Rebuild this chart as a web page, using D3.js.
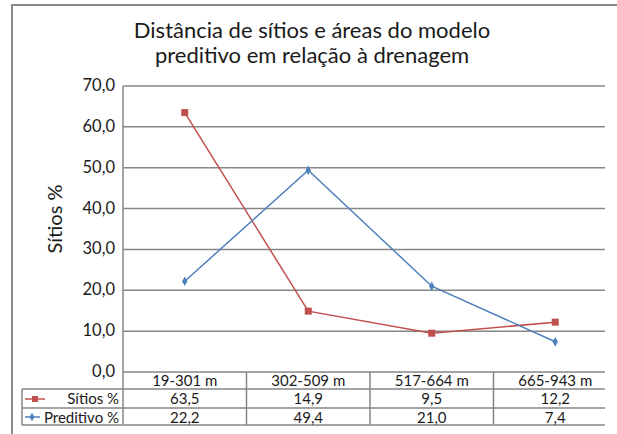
<!DOCTYPE html>
<html>
<head>
<meta charset="utf-8">
<script src="https://cdn.jsdelivr.net/npm/d3@7"></script>
<style>
  body { margin: 0; background: #fff; }
  svg { font-family: Lato, "Open Sans", sans-serif; }
</style>
</head>
<body>
<svg id="chart" width="617" height="434"></svg>
<script>
var categories = ["19-301 m", "302-509 m", "517-664 m", "665-943 m"];
var sitios = [63.5, 14.9, 9.5, 12.2];
var preditivo = [22.2, 49.4, 21.0, 7.4];
var yTicks = [0, 10, 20, 30, 40, 50, 60, 70];
var seriesNames = ["Sítios %", "Preditivo %"];
var titleLines = ["Distância de sítios e áreas do modelo", "preditivo em relação à drenagem"];

function draw_chart() {
    var svg = d3.select("svg");
    var plotLeft = 123, plotRight = 605, plotTop = 86, plotBottom = 372;
    var fmt = function (v) { return d3.format(".1f")(v).replace(".", ","); };
    var red = "#c0504d", blue = "#4f81bd", gridColor = "#868686", ink = "#1a1a1a";

    var x = d3.scaleBand().domain(categories).range([plotLeft, 617]);
    var y = d3.scaleLinear().domain([0, 70]).range([plotBottom, plotTop]);
    var cx = function (i) { return x(categories[i]) + x.bandwidth() / 2; };

    // outer frame
    svg.append("path")
        .attr("d", "M12,440 V5 H620")
        .attr("fill", "none")
        .attr("stroke", "#8c8c8c")
        .attr("stroke-width", 2);

    // title
    svg.append("g").selectAll("text")
        .data(titleLines)
        .enter().append("text")
        .attr("x", 312)
        .attr("y", function (d, i) { return 38 + i * 25; })
        .attr("text-anchor", "middle")
        .attr("font-size", 22)
        .attr("fill", ink)
        .text(function (d) { return d; });

    // grid lines
    svg.append("g").selectAll("line")
        .data(yTicks)
        .enter().append("line")
        .attr("x1", plotLeft)
        .attr("x2", plotRight)
        .attr("y1", function (d) { return y(d); })
        .attr("y2", function (d) { return y(d); })
        .attr("stroke", gridColor)
        .attr("stroke-width", 1.5);

    // y axis line
    svg.append("line")
        .attr("x1", plotLeft).attr("x2", plotLeft)
        .attr("y1", plotTop).attr("y2", 425)
        .attr("stroke", gridColor).attr("stroke-width", 1.5);

    // y tick labels
    svg.append("g").selectAll("text")
        .data(yTicks)
        .enter().append("text")
        .attr("x", 115)
        .attr("y", function (d) { return y(d) + 5; })
        .attr("text-anchor", "end")
        .attr("font-size", 16.5)
        .attr("fill", ink)
        .text(fmt);

    // y axis title
    svg.append("text")
        .attr("transform", "translate(62,219) rotate(-90)")
        .attr("text-anchor", "middle")
        .attr("font-size", 20)
        .attr("fill", ink)
        .text("Sítios %");

    // data table
    var rowY = [plotBottom, 389, 408, 425];
    var tg = svg.append("g");
    rowY.slice(1).forEach(function (ry) {
        tg.append("line")
            .attr("x1", 22).attr("x2", plotRight)
            .attr("y1", ry).attr("y2", ry)
            .attr("stroke", gridColor).attr("stroke-width", 1.5);
    });
    tg.append("line")
        .attr("x1", 22).attr("x2", 22)
        .attr("y1", 389).attr("y2", 425)
        .attr("stroke", gridColor).attr("stroke-width", 1.5);
    tg.selectAll("line.div")
        .data(categories.slice(1))
        .enter().append("line")
        .attr("class", "div")
        .attr("x1", function (d) { return x(d); })
        .attr("x2", function (d) { return x(d); })
        .attr("y1", plotBottom).attr("y2", 425)
        .attr("stroke", gridColor).attr("stroke-width", 1.5);

    tg.selectAll("text.cat")
        .data(categories)
        .enter().append("text")
        .attr("class", "cat")
        .attr("x", function (d, i) { return cx(i); })
        .attr("y", 386)
        .attr("text-anchor", "middle")
        .attr("font-size", 15)
        .attr("fill", ink)
        .text(function (d) { return d; });

    [sitios, preditivo].forEach(function (vals, r) {
        tg.selectAll("text.v" + r)
            .data(vals)
            .enter().append("text")
            .attr("class", "v" + r)
            .attr("x", function (d, i) { return cx(i); })
            .attr("y", rowY[r + 1] + 15)
            .attr("text-anchor", "middle")
            .attr("font-size", 15)
            .attr("fill", ink)
            .text(fmt);
        tg.append("text")
            .attr("x", 119)
            .attr("y", rowY[r + 1] + 15)
            .attr("text-anchor", "end")
            .attr("font-size", 15)
            .attr("fill", ink)
            .text(seriesNames[r]);
    });

    // legend keys in table
    tg.append("line").attr("x1", 25).attr("x2", 45).attr("y1", 399).attr("y2", 399)
        .attr("stroke", red).attr("stroke-width", 1.5);
    tg.append("rect").attr("x", 32).attr("y", 396).attr("width", 6).attr("height", 6).attr("fill", red);
    tg.append("line").attr("x1", 25).attr("x2", 40).attr("y1", 417).attr("y2", 417)
        .attr("stroke", blue).attr("stroke-width", 1.5);
    tg.append("path").attr("d", d3.symbol(d3.symbolDiamond, 22)()).attr("transform", "translate(32,417)")
        .attr("fill", blue);

    // series lines
    var line = d3.line()
        .x(function (d, i) { return cx(i); })
        .y(function (d) { return y(d); });

    svg.append("path").datum(sitios)
        .attr("d", line).attr("fill", "none").attr("stroke", red).attr("stroke-width", 1.5);
    svg.append("path").datum(preditivo)
        .attr("d", line).attr("fill", "none").attr("stroke", blue).attr("stroke-width", 1.5);

    svg.append("g").selectAll("rect")
        .data(sitios)
        .enter().append("rect")
        .attr("x", function (d, i) { return cx(i) - 3.5; })
        .attr("y", function (d) { return y(d) - 3.5; })
        .attr("width", 7).attr("height", 7)
        .attr("fill", red);

    svg.append("g").selectAll("path")
        .data(preditivo)
        .enter().append("path")
        .attr("d", d3.symbol(d3.symbolDiamond, 26)())
        .attr("transform", function (d, i) { return "translate(" + cx(i) + "," + y(d) + ")"; })
        .attr("fill", blue);
}

draw_chart();
</script>
</body>
</html>
